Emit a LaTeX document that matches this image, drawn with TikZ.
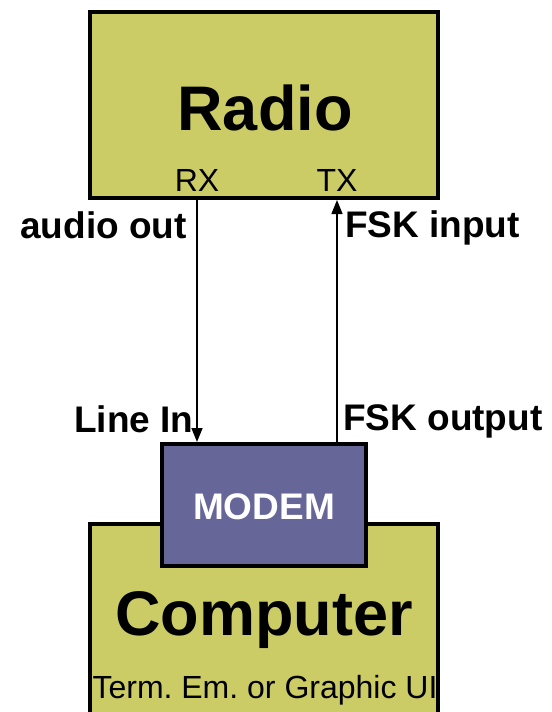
\documentclass[tikz,border=0pt]{standalone}
\usepackage{fontspec}
\setmainfont{Liberation Sans}
\usetikzlibrary{arrows.meta}
\definecolor{unitolive}{RGB}{204,204,102}
\definecolor{modemblue}{RGB}{102,102,153}
\frenchspacing

\tikzset{
    unitbox/.style={draw=black, line width=4bp, fill=unitolive, inner sep=0pt},
    modembox/.style={draw=black, line width=4bp, fill=modemblue, inner sep=0pt},
    bigname/.style={font=\fontsize{63bp}{70bp}\selectfont\bfseries},
    portname/.style={font=\fontsize{32bp}{36bp}\selectfont, inner sep=0pt},
    sidelabel/.style={font=\fontsize{37bp}{42bp}\selectfont\bfseries, inner sep=0pt},
    link/.style={line width=1.5bp, -{Triangle[length=14bp,width=11bp]}},
}

\begin{document}
\begin{tikzpicture}[x=1bp, y=-1bp]
    \clip (0,0) rectangle (552,712);
    \fill[white] (0,0) rectangle (552,712);

    % radio unit
    \node[unitbox, minimum width=348bp, minimum height=186bp] (radio) at (264,105) {};
    \node[bigname] (radiotitle) at (265,108) {Radio};
    \node[portname] (rx) at (197,180) {RX};
    \node[portname] (tx) at (337,180) {TX};

    % computer with the modem on top
    \node[unitbox, minimum width=348bp, minimum height=192bp] (computer) at (264,620) {};
    \node[bigname] (computertitle) at (264,620) {Computer};
    \node[portname] (ui) at (265,690) {Term. Em. or Graphic UI};
    \node[modembox, minimum width=204bp, minimum height=122bp] (modem) at (264,505) {};
    \node[sidelabel, text=white] (modemtitle) at (264,507) {MODEM};

    % audio and fsk lines
    \draw[link] (rx |- radio.south) -- (rx |- modem.north);
    \draw[link] (tx |- modem.north) -- (tx |- radio.south);

    \node[sidelabel, anchor=east] (audioout) at (187,225) {audio out};
    \node[sidelabel, anchor=west] (fskin) at (345,228) {FSK input};
    \node[sidelabel, anchor=west] (linein) at (74,419) {Line In};
    \node[sidelabel, anchor=west] (fskout) at (343,421) {FSK output};
\end{tikzpicture}
\end{document}
